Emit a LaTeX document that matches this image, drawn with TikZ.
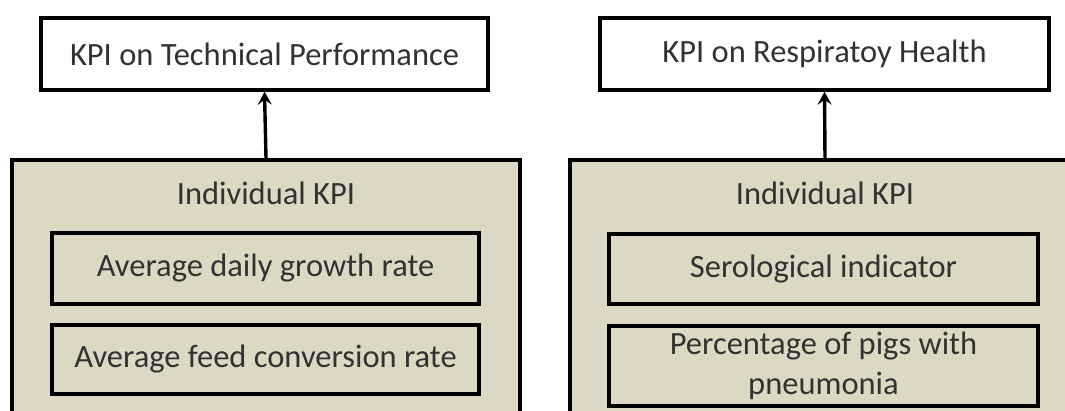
\documentclass[tikz,border=0pt]{standalone}
\usepackage{fontspec}
\setmainfont{Carlito}
\usetikzlibrary{arrows.meta}
\definecolor{tan}{RGB}{221,216,196}
\definecolor{txt}{RGB}{50,50,50}
\tikzset{
  box/.style={draw=black, line width=3.4pt, inner sep=0pt, align=center, text=txt, font=\fontsize{32.5}{40}\selectfont},
  topbox/.style={box, fill=white, minimum height=72pt},
  outerbox/.style={box, fill=tan},
  innerbox/.style={box, fill=tan},
  lbl/.style={text=txt, font=\fontsize{32.5}{40}\selectfont, inner sep=0pt},
  conn/.style={line width=3.4pt, -{Stealth[length=13pt,width=14pt,inset=5pt]}}
}
\begin{document}
\begin{tikzpicture}[x=1pt,y=-1pt]
\useasboundingbox (0,0) rectangle (1065,410);
\clip (0,0) rectangle (1065,410);
\fill[white] (0,0) rectangle (1065,410);
% left
\node[topbox, minimum width=447pt] (t1) at (264.5,54) {KPI on Technical Performance};
\node[outerbox, minimum width=508pt, minimum height=280pt] (o1) at (266,300) {};
\node[lbl] (h1) at (266,193) {Individual KPI};
\node[innerbox, minimum width=427pt, minimum height=71pt] (a1) at (265.5,268.5) {Average daily growth rate};
\node[innerbox, minimum width=427pt, minimum height=69pt] (a2) at (265.5,359.5) {Average feed conversion rate};
\draw[conn] (o1.north) -- (t1.south);
% right
\node[topbox, minimum width=449pt] (t2) at (824.5,54) {KPI on Respiratoy Health};
\node[outerbox, minimum width=510pt, minimum height=280pt] (o2) at (825,300) {};
\node[lbl] (h2) at (825,193) {Individual KPI};
\node[innerbox, minimum width=429pt, minimum height=70pt] (b1) at (823.5,269) {Serological indicator};
\node[innerbox, minimum width=429pt, minimum height=80pt] (b2) at (823.5,366) {Percentage of pigs with\\pneumonia};
\draw[conn] (o2.north) -- (t2.south);
\end{tikzpicture}
\end{document}
